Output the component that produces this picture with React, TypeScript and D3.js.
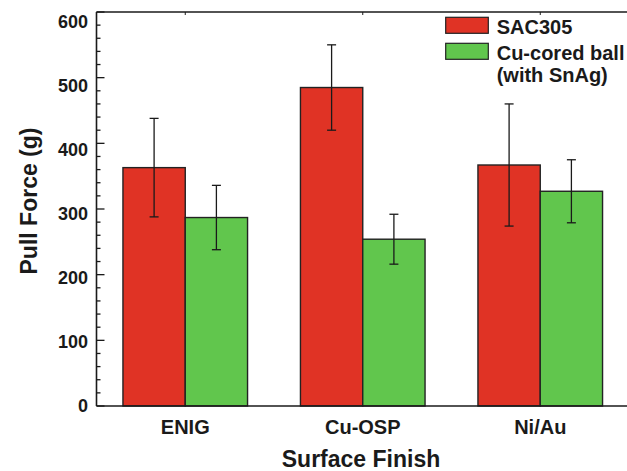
import React from "react";
import * as d3 from "d3";

const categories = ["ENIG", "Cu-OSP", "Ni/Au"];
const seriesNames = ["SAC305", "Cu-cored ball (with SnAg)"];
const sac305 = [363, 485, 367];
const sac305Err = [75, 65, 93];
const cuCored = [287, 254, 327];
const cuCoredErr = [49, 38, 48];
const yTicks = [0, 100, 200, 300, 400, 500, 600];

const W = 627;
const H = 471;
const left = 96.5;
const right = 629;
const top = 12;
const bottom = 406;
const colors = ["#E03325", "#61C64D"];
const FONT = "'Liberation Sans', Arial, Helvetica, sans-serif";

export default function App() {
  const x = d3.scaleBand().domain(categories).range([left, right]).paddingInner(0.3).paddingOuter(0.15);
  const y = d3.scaleLinear().domain([0, 600]).range([bottom, top]);
  // tick labels in the reference sit on a slightly compressed scale
  const yLab = d3.scaleLinear().domain([0, 600]).range([405, 21]);
  const barW = 62.3;
  const minor = d3.range(0, 601, 20);
  const series = [
    { vals: sac305, errs: sac305Err },
    { vals: cuCored, errs: cuCoredErr },
  ];
  const center = (c: string) => (x(c) as number) + x.bandwidth() / 2;

  return (
    <svg width={W} height={H} style={{ position: "absolute", left: 0, top: 0, background: "#fff" }}>
      {series.map((s, si) =>
        categories.map((c, ci) => {
          const x0 = center(c) + (si === 0 ? -barW : 0);
          return (
            <rect
              key={`b${si}-${ci}`}
              x={x0}
              y={y(s.vals[ci])}
              width={barW}
              height={bottom - y(s.vals[ci])}
              fill={colors[si]}
              stroke="#222"
              strokeWidth={1.4}
            />
          );
        })
      )}
      {series.map((s, si) =>
        categories.map((c, ci) => {
          const cx = center(c) + (si === 0 ? -barW / 2 : barW / 2);
          const y1 = y(s.vals[ci] + s.errs[ci]);
          const y2 = y(s.vals[ci] - s.errs[ci]);
          return (
            <g key={`e${si}-${ci}`} stroke="#1a1a1a" strokeWidth={1.3}>
              <line x1={cx} x2={cx} y1={y1} y2={y2} />
              <line x1={cx - 4.5} x2={cx + 4.5} y1={y1} y2={y1} />
              <line x1={cx - 4.5} x2={cx + 4.5} y1={y2} y2={y2} />
            </g>
          );
        })
      )}
      <line x1={left} x2={W} y1={top} y2={top} stroke="#1a1a1a" strokeWidth={1.6} />
      <line x1={left} x2={W} y1={bottom} y2={bottom} stroke="#1a1a1a" strokeWidth={1.6} />
      <line x1={left} x2={left} y1={top} y2={bottom} stroke="#1a1a1a" strokeWidth={1.6} />
      {minor.map((v) => (
        <line key={`m${v}`} x1={left} x2={left + (v % 100 === 0 ? 8 : 4)} y1={y(v)} y2={y(v)} stroke="#1a1a1a" strokeWidth={1.3} />
      ))}
      {yTicks.map((v) => (
        <text key={`t${v}`} x={88} y={yLab(v) + 6.5} textAnchor="end" fontFamily={FONT} fontWeight="bold" fontSize={18} fill="#1a1a1a">
          {v}
        </text>
      ))}
      {categories.map((c) => (
        <line key={`xt${c}`} x1={center(c)} x2={center(c)} y1={top} y2={top + 3} stroke="#1a1a1a" strokeWidth={1} />
      ))}
      {categories.map((c) => (
        <text key={`c${c}`} x={center(c)} y={434} textAnchor="middle" fontFamily={FONT} fontWeight="bold" fontSize={20} fill="#1a1a1a">
          {c}
        </text>
      ))}
      <text x={361} y={467} textAnchor="middle" fontFamily={FONT} fontWeight="bold" fontSize={23} fill="#1a1a1a">
        Surface Finish
      </text>
      <text
        transform={`translate(37,201) rotate(-90)`}
        textAnchor="middle"
        fontFamily={FONT}
        fontWeight="bold"
        fontSize={23}
        fill="#1a1a1a"
      >
        Pull Force (g)
      </text>
      <rect x={445.7} y={17.3} width={42.6} height={16} fill={colors[0]} stroke="#222" strokeWidth={1.2} />
      <rect x={445.7} y={43.3} width={42.6} height={16} fill={colors[1]} stroke="#222" strokeWidth={1.2} />
      <text x={496.7} y={34.3} fontFamily={FONT} fontWeight="bold" fontSize={20} fill="#1a1a1a">
        {seriesNames[0]}
      </text>
      <text x={496.7} y={59.5} fontFamily={FONT} fontWeight="bold" fontSize={20} fill="#1a1a1a">
        Cu-cored ball
      </text>
      <text x={496.7} y={82} fontFamily={FONT} fontWeight="bold" fontSize={20} fill="#1a1a1a">
        (with SnAg)
      </text>
    </svg>
  );
}
